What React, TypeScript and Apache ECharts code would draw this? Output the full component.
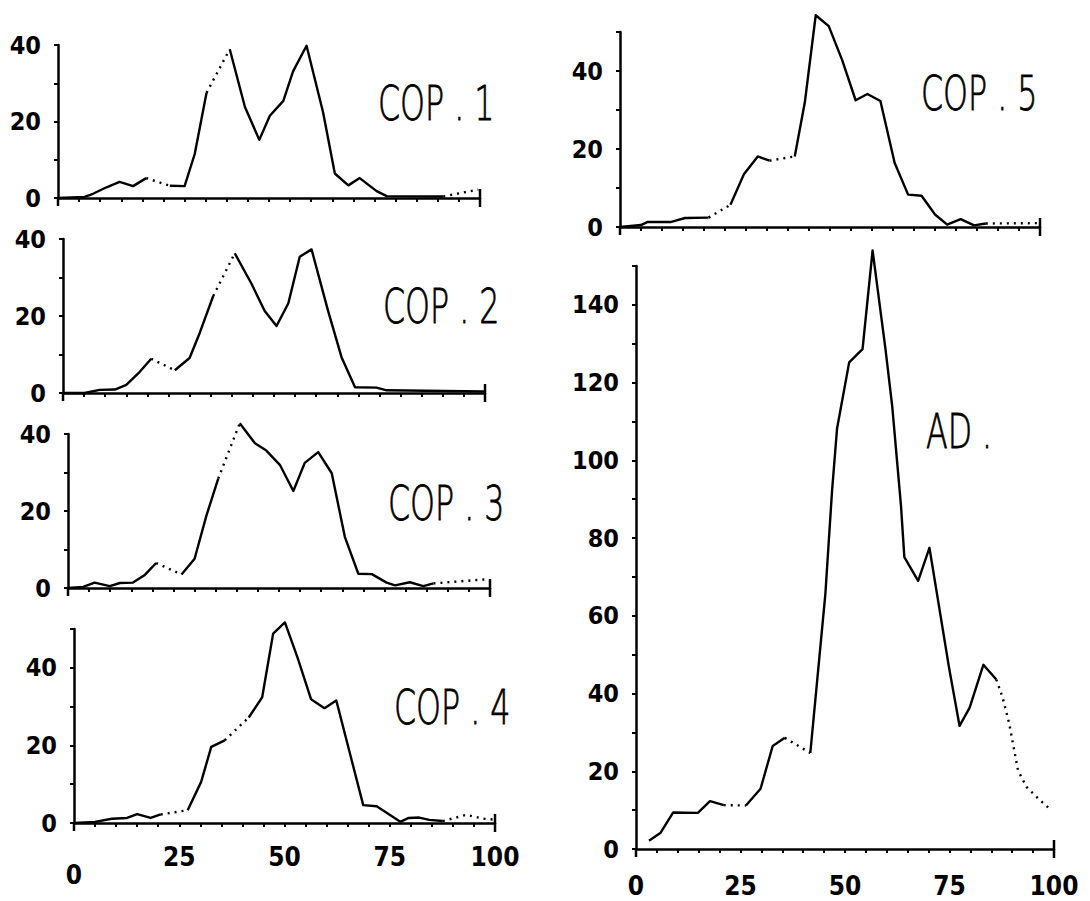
import React, { useEffect, useRef } from "react";
import * as echarts from "echarts";

// ---- data ----
const cop1X = [0, 6.3, 8.3, 11.5, 14.6, 17.8, 20.9, 26.5, 30, 32.4, 35.2, 40.7, 44.3, 47.7, 50.2, 53.4, 55.7, 58.9, 62.8, 65.6, 68.8, 71.5, 75.5, 77.9, 91.3, 99.6];
const cop1Y = [0, 0.3, 1.1, 2.8, 4.2, 3.1, 5.2, 3.2, 3.1, 11.5, 27.5, 38.9, 23.8, 15.2, 21.5, 25.4, 33.1, 39.8, 22.5, 6.4, 3.3, 5.2, 1.8, 0.5, 0.4, 2.2];
const cop1Dotted = [6, 10, 24];

const cop2X = [0, 5.1, 8.7, 12.3, 15, 18.2, 20.9, 26.5, 30, 32.4, 35.6, 40.7, 44.7, 47.8, 50.6, 53.4, 56.1, 58.9, 62.8, 66, 69.2, 74.3, 76.7, 100];
const cop2Y = [0, 0, 0.8, 0.9, 2.1, 5.5, 8.9, 5.9, 9.1, 15.6, 25.2, 36.3, 28.3, 21.3, 17.4, 23.3, 35.4, 37.3, 21.4, 9.3, 1.5, 1.4, 0.7, 0.4];
const cop2Dotted = [6, 10];

const cop3X = [0, 3.6, 6.3, 9.9, 12.3, 15.4, 18.2, 20.9, 26.9, 30, 32.8, 35.6, 40.7, 44.3, 47, 50.2, 53.4, 56.1, 59.3, 62.5, 65.6, 68.8, 72, 75.5, 77.5, 81, 84.2, 86.6, 99.6];
const cop3Y = [0, 0.3, 1.4, 0.5, 1.3, 1.4, 3.4, 6.5, 3.5, 7.6, 18.8, 28.4, 42.8, 37.6, 35.7, 32, 25.2, 32.5, 35.3, 29.8, 13.3, 3.7, 3.6, 1.4, 0.7, 1.5, 0.5, 1.2, 2.3];
const cop3Dotted = [7, 11, 27];

const cop4X = [0, 5, 9, 12.6, 15, 18.2, 20.6, 27, 30.2, 32.6, 35.8, 41.5, 44.7, 47.3, 50.1, 53.1, 56.3, 59.5, 62.3, 65.5, 68.7, 71.9, 74.7, 77.5, 79.5, 82, 84.4, 87.6, 93.2, 97.2, 99.6];
const cop4Y = [0, 0.3, 1.1, 1.3, 2.3, 1.3, 2.2, 3.3, 10.6, 19.6, 21.3, 27.2, 32.4, 48.8, 51.7, 42.6, 31.9, 29.6, 31.6, 18.1, 4.6, 4.3, 2.3, 0.3, 1.3, 1.4, 0.8, 0.5, 2.1, 1.1, 0.9];
const cop4Dotted = [6, 10, 27, 28, 29];

const cop5X = [0, 5, 6.6, 12.2, 15.5, 21.1, 26.3, 29.5, 32.8, 35.6, 41.6, 44, 46.6, 49.7, 52.9, 56.1, 58.9, 62, 65.4, 68.6, 71.8, 75, 77.9, 81.1, 84.3, 87.1, 99.6];
const cop5Y = [0, 0.5, 1.3, 1.3, 2.3, 2.4, 5.7, 13.5, 18.1, 17, 18.1, 31.9, 54.3, 51.5, 42.8, 32.5, 34.1, 32.3, 16.4, 8.3, 8, 3.2, 0.6, 2, 0.4, 0.9, 1];
const cop5Dotted = [5, 9, 25];

const adX = [3.1, 5.9, 8.9, 14.8, 17.7, 21, 26.3, 29.8, 32.7, 35.6, 41.7, 45.3, 46.9, 48.1, 51, 54.2, 56.6, 59.7, 61.3, 63.4, 64.2, 67.5, 70.2, 74.9, 77.4, 79.8, 83.1, 86.2, 87.7, 89.3, 91.4, 93.4, 96.3, 98.9];
const adY = [2.1, 4.2, 9.4, 9.3, 12.3, 11.3, 11.2, 15.5, 26.5, 28.6, 24.7, 65.6, 92.1, 108.2, 125.2, 128.6, 154, 128.5, 113.9, 88.2, 75.1, 69, 77.5, 46.6, 31.7, 36.3, 47.4, 43.6, 39, 32.2, 20.2, 16, 12.9, 10.4];
const adDotted = [5, 9, 27, 28, 29, 30, 31, 32];

const panelNames = ["COP . 1", "COP . 2", "COP . 3", "COP . 4", "COP . 5", "AD ."];
const xTickLabels = [0, 25, 50, 75, 100];
const capPoints = [[0, 0], [100, 0]];

const NUM_FONT = "'Liberation Sans Narrow', 'DejaVu Sans Condensed', 'DejaVu Sans', sans-serif";
const TITLE_FONT = "'DejaVu Sans', sans-serif";

function splitSegments(xs: number[], ys: number[], dotted: number[]) {
  const solid: any[] = [];
  const dot: any[] = [];
  let solidEnd = -1;
  let dotEnd = -1;
  for (let i = 0; i < xs.length - 1; i++) {
    const isDot = dotted.includes(i);
    const arr = isDot ? dot : solid;
    const prevEnd = isDot ? dotEnd : solidEnd;
    if (prevEnd !== i) {
      if (arr.length) arr.push([xs[i], "-"]);
      arr.push([xs[i], ys[i]]);
    }
    arr.push([xs[i + 1], ys[i + 1]]);
    if (isDot) dotEnd = i + 1;
    else solidEnd = i + 1;
  }
  return { solid, dot };
}

const panels = [
  { xs: cop1X, ys: cop1Y, dots: cop1Dotted, max: 40, grid: { left: 58, top: 45, width: 422, height: 153 }, showX: false, lowZero: false, tx: 378, ty: 103 },
  { xs: cop2X, ys: cop2Y, dots: cop2Dotted, max: 40, grid: { left: 63, top: 239, width: 422, height: 154 }, showX: false, lowZero: false, tx: 383, ty: 306 },
  { xs: cop3X, ys: cop3Y, dots: cop3Dotted, max: 40, grid: { left: 68, top: 434, width: 422, height: 154 }, showX: false, lowZero: false, tx: 388, ty: 503 },
  { xs: cop4X, ys: cop4Y, dots: cop4Dotted, max: 50, grid: { left: 74, top: 629, width: 421, height: 194 }, showX: true, lowZero: true, tx: 394, ty: 707 },
  { xs: cop5X, ys: cop5Y, dots: cop5Dotted, max: 50, grid: { left: 620, top: 32, width: 420, height: 195 }, showX: false, lowZero: false, tx: 921, ty: 93 },
  { xs: adX, ys: adY, dots: adDotted, max: 150, grid: { left: 636, top: 266, width: 418, height: 583 }, showX: true, lowZero: false, tx: 926, ty: 431 },
];

export default function App() {
  const ref = useRef<HTMLDivElement>(null);
  useEffect(() => {
    if (!ref.current) return;
    const chart = echarts.init(ref.current, null, { renderer: "svg" });
    const grids: any[] = [];
    const xAxes: any[] = [];
    const yAxes: any[] = [];
    const series: any[] = [];
    const graphics: any[] = [];
    panels.forEach((p, k) => {
      grids.push({ ...p.grid, containLabel: false });
      xAxes.push({
        type: "value",
        gridIndex: k,
        min: 0,
        max: 100,
        interval: 5,
        axisLine: { show: true, onZero: false, lineStyle: { color: "#000", width: 2.5 } },
        axisTick: { show: true, length: 4, lineStyle: { color: "#000", width: 2 } },
        splitLine: { show: false },
        axisLabel: {
          show: p.showX,
          margin: k === 5 ? 24 : 21,
          color: "#000",
          fontFamily: NUM_FONT,
          fontWeight: "bold",
          fontSize: 26,
          formatter: (v: number) => {
            if (!xTickLabels.includes(v)) return "";
            if (v === 0 && p.lowZero) return "{z|0}";
            return String(v);
          },
          rich: { z: { padding: [18, 0, 0, 0], fontFamily: NUM_FONT, fontWeight: "bold", fontSize: 26, color: "#000" } },
        },
      });
      yAxes.push({
        type: "value",
        gridIndex: k,
        min: 0,
        max: p.max,
        interval: 10,
        axisLine: { show: true, lineStyle: { color: "#000", width: 2.5 } },
        axisTick: { show: true, length: 4, lineStyle: { color: "#000", width: 2 } },
        splitLine: { show: false },
        axisLabel: {
          margin: 17,
          color: "#000",
          fontFamily: NUM_FONT,
          fontWeight: "bold",
          fontSize: 25,
          padding: [0, 0, 14, 0],
          formatter: (v: number) => (v % 20 === 0 ? String(v) : ""),
        },
      });
      const seg = splitSegments(p.xs, p.ys, p.dots);
      series.push({
        type: "line",
        xAxisIndex: k,
        yAxisIndex: k,
        data: seg.solid,
        symbol: "none",
        clip: false,
        connectNulls: false,
        lineStyle: { color: "#000", width: 2.4, join: "round" },
      });
      series.push({
        type: "line",
        xAxisIndex: k,
        yAxisIndex: k,
        data: seg.dot,
        symbol: "none",
        clip: false,
        connectNulls: false,
        lineStyle: { color: "#000", width: 2.4, type: [2, 5] },
      });
      series.push({
        type: "custom",
        xAxisIndex: k,
        yAxisIndex: k,
        data: capPoints,
        encode: { x: 0, y: 1 },
        clip: false,
        renderItem: (_params: any, api: any) => {
          const xv = api.value(0);
          const c = api.coord([xv, 0]);
          if (xv === 0) {
            return { type: "line", shape: { x1: c[0], y1: c[1], x2: c[0], y2: c[1] + 8 }, style: { stroke: "#000", lineWidth: 2.5 } };
          }
          return { type: "line", shape: { x1: c[0], y1: c[1] - 9, x2: c[0], y2: c[1] + 9 }, style: { stroke: "#000", lineWidth: 2.5 } };
        },
      });
      graphics.push({
        type: "text",
        x: p.tx,
        y: p.ty,
        scaleX: 0.66,
        style: {
          text: panelNames[k],
          fontFamily: TITLE_FONT,
          fontWeight: 200,
          fontSize: 48,
          fill: "#000",
          stroke: "#000",
          lineWidth: 0.8,
          verticalAlign: "middle",
          align: "left",
        },
      });
    });
    chart.setOption({
      animation: false,
      backgroundColor: "#fff",
      grid: grids,
      xAxis: xAxes,
      yAxis: yAxes,
      series,
      graphic: graphics,
    });
    return () => chart.dispose();
  }, []);
  return <div ref={ref} style={{ position: "fixed", left: 0, top: 0, width: 1090, height: 901, background: "#fff" }} />;
}
